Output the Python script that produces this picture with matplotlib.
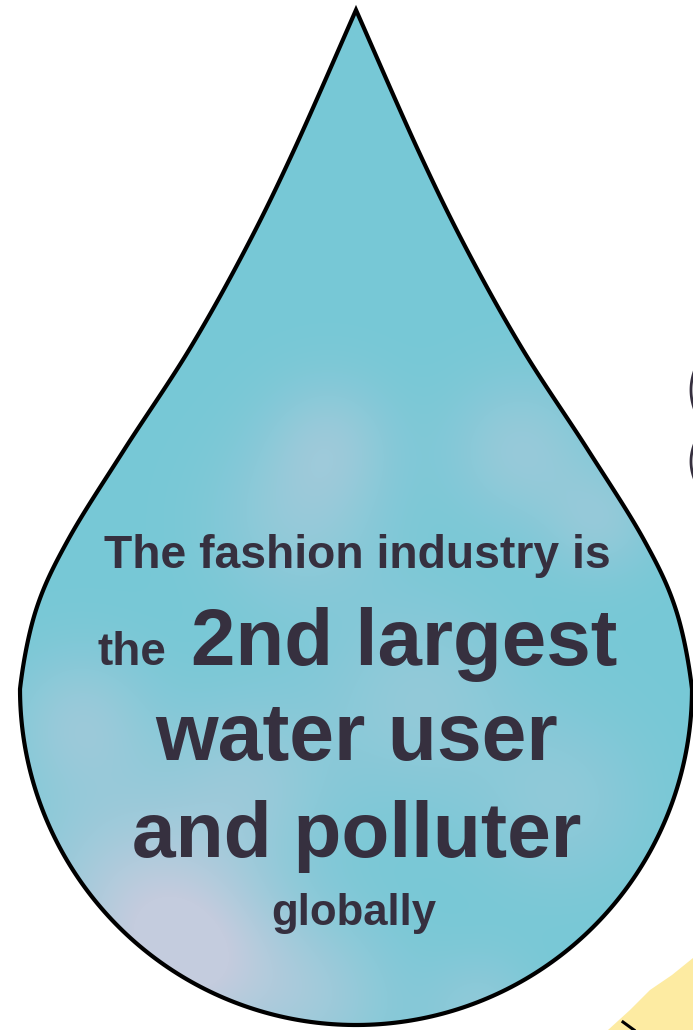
import numpy as np
import matplotlib.pyplot as plt
from matplotlib.path import Path
from matplotlib.patches import PathPatch, Polygon

# text lines of the infographic
lines = ["The fashion industry is", "water user", "and polluter", "globally"]
line_x = [357, 357, 357, 354]
line_y = [568, 760, 857, 925]
line_size = [33.3, 58, 56.5, 31.5]
lead_word, lead_size = "the", 33
head_word, head_size = "2nd largest", 57.5

# right outline of the drop (top half), mirrored for the left side
edge_x = [356, 418, 467, 523, 588, 644, 676, 692]
edge_y = [10, 150, 250, 350, 450, 540, 610, 689]
circle_c = (356, 689)
circle_r = 336

text_col = "#36303f"
drop_col = np.array([119, 200, 214]) / 255
cloud_col = np.array([196, 204, 222]) / 255


def catmull(px, py, n=40):
    p = np.column_stack([px, py]).astype(float)
    p = np.vstack([p[0] - (p[1] - p[0]) * 0.3, p, [p[-1][0], p[-1][1] + 60]])
    out = []
    for i in range(1, len(p) - 2):
        p0, p1, p2, p3 = p[i - 1], p[i], p[i + 1], p[i + 2]
        t = np.linspace(0, 1, n, endpoint=False)[:, None]
        out.append(0.5 * ((2 * p1) + (-p0 + p2) * t + (2 * p0 - 5 * p1 + 4 * p2 - p3) * t ** 2
                          + (-p0 + 3 * p1 - 3 * p2 + p3) * t ** 3))
    out.append(p[-2][None, :])
    return np.vstack(out)


right = catmull(edge_x, edge_y)
ang = np.linspace(0, np.pi, 200)
bottom = np.column_stack([circle_c[0] + circle_r * np.cos(ang), circle_c[1] + circle_r * np.sin(ang)])
left = right[::-1].copy()
left[:, 0] = 2 * circle_c[0] - left[:, 0]
verts = np.vstack([right, bottom, left])

fig = plt.figure(figsize=(6.93, 10.30), dpi=100)
ax = fig.add_axes([0, 0, 1, 1])
ax.set_xlim(0, 693)
ax.set_ylim(1030, 0)
ax.axis("off")

# cloudy texture inside the drop
yy, xx = np.mgrid[0:1030, 0:693]
blobs = [(190, 960, 70, 0.9), (120, 880, 80, 0.5), (330, 440, 45, 0.35), (520, 450, 50, 0.4),
         (300, 520, 60, 0.35), (80, 720, 50, 0.4), (420, 700, 70, 0.35), (600, 520, 40, 0.35),
         (250, 780, 60, 0.35), (560, 800, 60, 0.3), (320, 1000, 60, 0.4), (480, 1010, 40, 0.3)]
w = np.zeros(xx.shape)
for bx, by, bs, ba in blobs:
    w += ba * np.exp(-((xx - bx) ** 2 + (yy - by) ** 2) / (2 * bs ** 2))
w = np.clip(w, 0, 1)[..., None]
img = drop_col * (1 - w) + cloud_col * w
im = ax.imshow(img, extent=(0, 693, 1030, 0), zorder=1, interpolation="bilinear")
drop = PathPatch(Path(verts, closed=True), facecolor="none", edgecolor="black", lw=3.0, zorder=3)
ax.add_patch(drop)
im.set_clip_path(drop)

# yellow shape and dark marks near the edges
ax.add_patch(Polygon([(693, 958), (672, 975), (650, 990), (630, 1010), (608, 1030), (693, 1030)],
                     closed=True, facecolor="#fdeba2", edgecolor="none", zorder=2))
ax.plot([623, 634], [1022, 1030], color="black", lw=2.2, zorder=3)
for y0, y1 in [(372, 408), (445, 478)]:
    t = np.linspace(-1, 1, 30)
    ax.plot(694 - 3 * (1 - t ** 2), (y0 + y1) / 2 + t * (y1 - y0) / 2, color=text_col, lw=2.0, zorder=3)

fonts = ["Liberation Sans", "DejaVu Sans"]
for s, x, y, fs in zip(lines, line_x, line_y, line_size):
    ax.text(x, y, s, ha="center", va="baseline", fontsize=fs, fontweight="bold",
            color=text_col, family=fonts, zorder=4)
ax.text(132, 665, lead_word, ha="center", va="baseline", fontsize=lead_size, fontweight="bold",
        color=text_col, family=fonts, zorder=4)
ax.text(404, 665, head_word, ha="center", va="baseline", fontsize=head_size, fontweight="bold",
        color=text_col, family=fonts, zorder=4)

fig.savefig("out.png", dpi=100)
